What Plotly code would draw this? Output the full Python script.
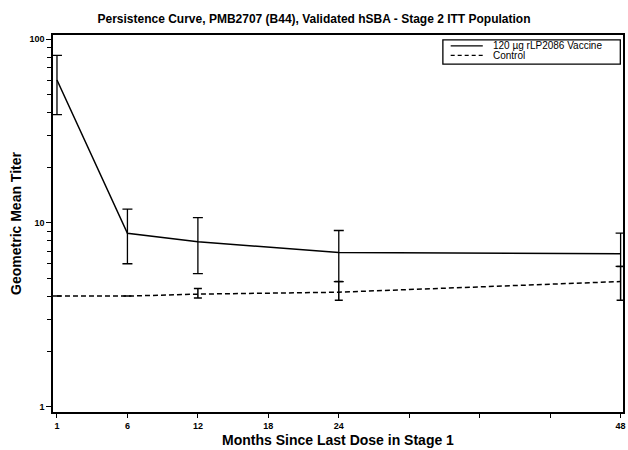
import plotly.graph_objects as go

# ---------------- data ----------------
months = ["1", "6", "12", "24", "48"]
vaccine_gmt = [60.0, 8.8, 7.9, 6.9, 6.8]
vaccine_lower = [38.9, 6.0, 5.3, 4.8, 5.8]
vaccine_upper = [81.8, 11.9, 10.7, 9.1, 8.8]
control_gmt = [4.0, 4.0, 4.1, 4.2, 4.8]
control_lower = [4.0, 4.0, 3.9, 3.8, 3.8]
control_upper = [4.0, 4.0, 4.4, 4.8, 5.8]

tick_months = ["1", "6", "12", "18", "24", "30", "36", "42", "48"]
tick_labels = ["1", "6", "12", "18", "24", "", "", "", "48"]
y_tickvals = [1, 10, 100]
y_ticktext = ["1", "10", "100"]
y_minor = [2, 3, 4, 5, 6, 7, 8, 9, 20, 30, 40, 50, 60, 70, 80, 90]

title_text = "Persistence Curve, PMB2707 (B44), Validated hSBA - Stage 2 ITT Population"
vaccine_name = "120 µg rLP2086 Vaccine"
control_name = "Control"

FONT = "Liberation Sans, Arial, sans-serif"

fig = go.Figure()

fig.add_trace(go.Scatter(
    x=months, y=control_gmt, mode="lines", name=control_name,
    line=dict(color="black", width=1.5, dash="5px,3px"),
    error_y=dict(type="data", symmetric=False,
                 array=[u - g for u, g in zip(control_upper, control_gmt)],
                 arrayminus=[g - l for g, l in zip(control_gmt, control_lower)],
                 color="black", thickness=1.5, width=4),
    showlegend=False,
))
fig.add_trace(go.Scatter(
    x=months, y=vaccine_gmt, mode="lines", name=vaccine_name,
    line=dict(color="black", width=1.5),
    error_y=dict(type="data", symmetric=False,
                 array=[u - g for u, g in zip(vaccine_upper, vaccine_gmt)],
                 arrayminus=[g - l for g, l in zip(vaccine_gmt, vaccine_lower)],
                 color="black", thickness=1.3, width=5),
    showlegend=False,
))

# manual legend (box + samples + labels)
fig.add_shape(type="rect", xref="paper", yref="paper", x0=0.684, x1=0.9953, y0=0.923, y1=0.987,
              line=dict(color="black", width=1.3), fillcolor="white", layer="below")
fig.add_shape(type="line", xref="paper", yref="paper", x0=0.6977, x1=0.754, y0=0.971, y1=0.971,
              line=dict(color="black", width=1.2))
fig.add_shape(type="line", xref="paper", yref="paper", x0=0.6977, x1=0.754, y0=0.946, y1=0.946,
              line=dict(color="black", width=1.2, dash="4px,3px"))
fig.add_annotation(xref="paper", yref="paper", x=0.768, y=0.972, text=vaccine_name, showarrow=False,
                   xanchor="left", yanchor="middle", font=dict(family=FONT, size=10, color="black"))
fig.add_annotation(xref="paper", yref="paper", x=0.768, y=0.945, text=control_name, showarrow=False,
                   xanchor="left", yanchor="middle", font=dict(family=FONT, size=10, color="black"))

fig.update_layout(
    width=628, height=450,
    margin=dict(l=53, r=2, t=35, b=38),
    paper_bgcolor="white", plot_bgcolor="white",
    font=dict(family=FONT, color="black"),
    title=dict(text=title_text, x=0.5, xref="container", xanchor="center",
               y=1 - 19 / 450, yref="container", yanchor="middle",
               font=dict(family=FONT, size=12, weight="bold", color="black")),
    showlegend=False,
)

fig.update_xaxes(
    type="category", categoryorder="array", categoryarray=tick_months,
    tickmode="array", tickvals=tick_months, ticktext=tick_labels,
    range=[-0.0565, 8.034],
    showline=True, linecolor="black", linewidth=1.5, mirror=True,
    ticks="outside", ticklen=4, tickwidth=1.3, tickcolor="black",
    showgrid=False, zeroline=False,
    tickfont=dict(family=FONT, size=9, weight="bold", color="black"),
    title=dict(text="Months Since Last Dose in Stage 1", standoff=6,
               font=dict(family=FONT, size=14, weight="bold", color="black")),
)

fig.update_yaxes(
    type="log", range=[-0.0289, 2.0234],
    tickmode="array", tickvals=y_tickvals, ticktext=y_ticktext,
    showline=True, linecolor="black", linewidth=1.5, mirror=True,
    ticks="outside", ticklen=5, tickwidth=1.3, tickcolor="black",
    minor=dict(tickvals=y_minor, ticks="outside", ticklen=4, tickwidth=1.3,
               tickcolor="black", showgrid=False),
    showgrid=False, zeroline=False,
    tickfont=dict(family=FONT, size=9, weight="bold", color="black"),
    title=dict(text="Geometric Mean Titer", standoff=5,
               font=dict(family=FONT, size=14, weight="bold", color="black")),
)

fig.write_html("out.html")
